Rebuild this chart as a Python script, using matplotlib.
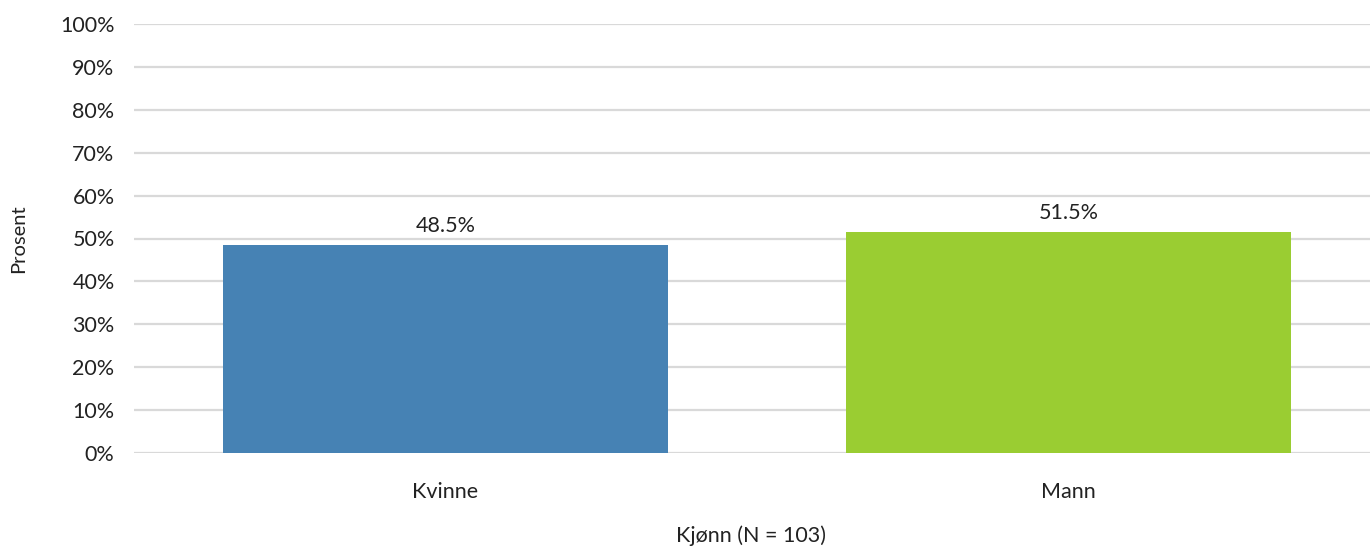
import matplotlib
matplotlib.use("Agg")
import matplotlib.pyplot as plt
from matplotlib.ticker import FuncFormatter, MultipleLocator

categories = ["Kvinne", "Mann"]
values = [48.5, 51.5]
colors = ["#4682B4", "#9ACD32"]
labels = ["48.5%", "51.5%"]

plt.rcParams['font.family'] = ['Lato', 'DejaVu Sans']

W, H = 1370, 551
fig = plt.figure(figsize=(W/100, H/100), dpi=100)
left, right = 134, 1370
top, bottom = 24, 453
ax = fig.add_axes([left/W, (H-bottom)/H, (right-left)/W, (bottom-top)/H])

x = list(range(len(categories)))
ax.bar(x, values, width=0.714, color=colors, zorder=3)
for xi, v, lab in zip(x, values, labels):
    ax.text(xi, v + 2, lab, ha='center', va='bottom', fontsize=15.5, color='#222222')

ax.set_ylim(0, 100)
ax.set_xlim(-0.5, 1.484)
ax.yaxis.set_major_locator(MultipleLocator(10))
ax.yaxis.set_major_formatter(FuncFormatter(lambda v, p: f"{v:.0f}%"))
ax.grid(axis='y', color='#d9d9d9', linewidth=1.6, zorder=0)
for s in ax.spines.values():
    s.set_visible(False)
ax.tick_params(axis='both', length=0, labelsize=15.5, labelcolor='#222222')
ax.tick_params(axis='y', pad=14)
ax.tick_params(axis='x', pad=21)
ax.set_xticks(x)
ax.set_xticklabels(categories)
ax.set_ylabel("Prosent", fontsize=14.5, color='#222222')
ax.yaxis.set_label_coords(-(134 - 27)/(right-left), 0.5)
ax.set_xlabel("Kjønn (N = 103)", fontsize=15.5, color='#222222', va='center')
ax.xaxis.set_label_coords((751 - left)/(right-left), -(536-bottom)/(bottom-top))

fig.savefig("out.png", dpi=100)
